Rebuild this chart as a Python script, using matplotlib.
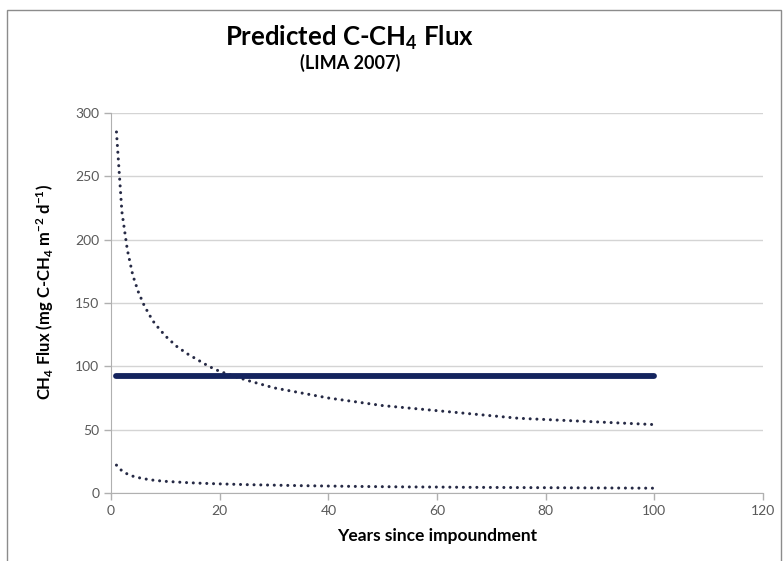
import numpy as np
import matplotlib
matplotlib.use("Agg")
import matplotlib.pyplot as plt
from matplotlib.patches import Rectangle

# years after the reservoir was filled, and predicted fluxes (mg C-CH4 m-2 d-1)
years = [1, 2, 3, 4, 5, 6, 7, 8, 9, 10, 12, 14, 16, 18, 20, 25, 30, 35, 40,
         45, 50, 55, 60, 65, 70, 75, 80, 85, 90, 95, 100]
flux_high = [285, 222, 192, 172, 159, 149, 141, 134, 129, 124, 116, 110, 105,
             100, 96, 89, 83, 79, 75, 72, 69, 67, 65, 63, 61, 59, 58, 57, 56,
             55, 54]
flux_low = [22, 17.5, 15, 13.3, 12.2, 11.3, 10.6, 10, 9.6, 9.2, 8.7, 8.2, 7.8,
            7.5, 7.2, 6.6, 6.2, 5.8, 5.5, 5.2, 5.0, 4.8, 4.7, 4.5, 4.4, 4.3,
            4.2, 4.1, 4.0, 3.9, 3.8]
mean_years = [1, 100]
mean_flux = [92, 92]

xticks = [0, 20, 40, 60, 80, 100, 120]
yticks = [0, 50, 100, 150, 200, 250, 300]

plt.rcParams['font.family'] = ['Lato', 'DejaVu Sans']
plt.rcParams['mathtext.default'] = 'regular'

fig = plt.figure(figsize=(7.83, 5.61), dpi=100)
ax = fig.add_axes([0.1418, 0.1212, 0.8327, 0.6774])

# frame round the whole chart
fig.patches.append(Rectangle((7 / 783, -0.02), 774 / 783, 1.0 - 10 / 561 + 0.02,
                             transform=fig.transFigure, fill=False,
                             edgecolor='#8c8c8c', linewidth=1.0))

dots = dict(color='#262a45', linewidth=2.2, linestyle=(0, (0.01, 2.2)),
            dash_capstyle='round')
ax.plot(years, flux_high, **dots)
ax.plot(years, flux_low, **dots)
ax.plot(mean_years, mean_flux, color='#14245e', linewidth=4.2,
        solid_capstyle='round')

ax.set_xlim(0, 120)
ax.set_ylim(0, 300)
ax.set_xticks(xticks)
ax.set_yticks(yticks)
ax.yaxis.grid(True, color='#d4d4d4', linewidth=1.0)
ax.set_axisbelow(True)
for side in ['top', 'right']:
    ax.spines[side].set_visible(False)
for side in ['left', 'bottom']:
    ax.spines[side].set_color('#b0b0b0')
ax.tick_params(axis='both', colors='#b0b0b0', labelcolor='#595959',
               labelsize=10, length=5, width=1.0)

ax.set_xlabel('Years since impoundment', fontsize=12.5, fontweight='bold',
              labelpad=8)
ax.set_ylabel('CH$_4$ Flux (mg C-CH$_4$ m$^{-2}$ d$^{-1}$)', fontsize=12,
              fontweight='bold', labelpad=12)
ax.yaxis.set_label_coords(-0.085, 0.53)

fig.text(350 / 783, 1 - 38 / 561, 'Predicted C-CH$_4$ Flux', fontsize=18.5,
         fontweight='bold', ha='center', va='center')
fig.text(350 / 783, 1 - 63 / 561, '(LIMA 2007)', fontsize=13,
         fontweight='bold', ha='center', va='center')

fig.savefig('out.png', dpi=100)
